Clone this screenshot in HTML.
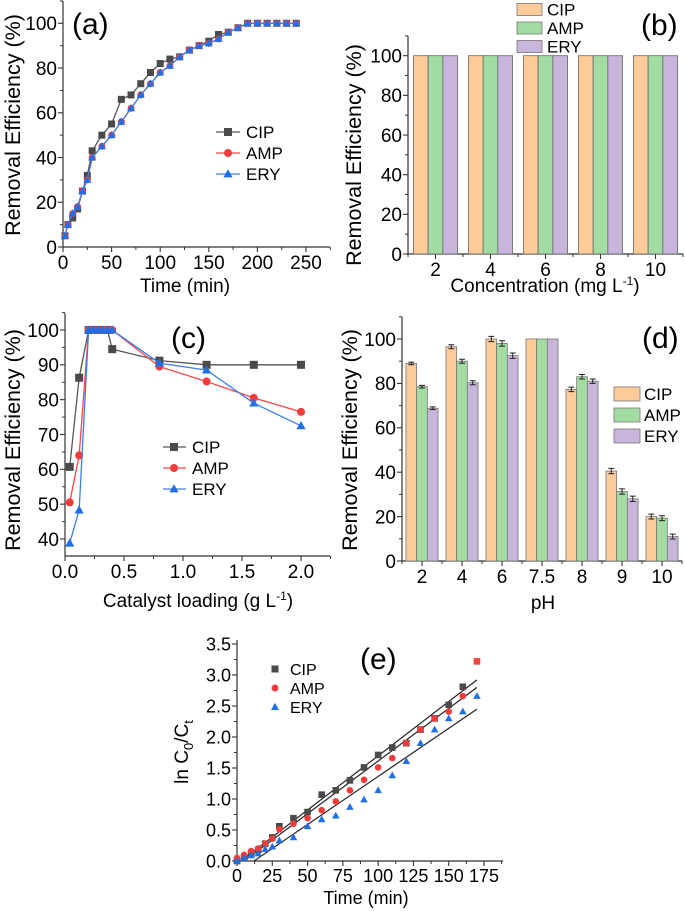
<!DOCTYPE html>
<html><head><meta charset="utf-8">
<style>
html,body{margin:0;padding:0;background:#fff;}
svg{display:block;font-family:"Liberation Sans",Arial,sans-serif;}
</style></head>
<body>
<svg id="fig" width="685" height="911" viewBox="0 0 685 911" xmlns="http://www.w3.org/2000/svg"></svg>
<script>
// ---------- Panel (a) data ----------
const aTime=[2,5,10,15,20,25,30,40,50,60,70,80,90,100,110,120,130,140,150,160,170,180,190,200,210,220,230,240];
const aCIP=[5,10,13,17,25,32,43,50,55,66,68,73,78,82,84,85,88,90,92,95,96,98,100,100,100,100,100,100];
const aAMP=[5,10,15,18,25,30,40,45,50,56,62,68,73,78,81,85,88,90,91,93,96,98,100,100,100,100,100,100];
const aERY=[5,10,15,18,25,30,40,45,50,56,62,68,73,78,81,85,88,90,91,93,96,98,100,100,100,100,100,100];
const aXTicks=[0,50,100,150,200,250];
const aYTicks=[0,20,40,60,80,100];
// ---------- Panel (b) data ----------
const bCats=["2","4","6","8","10"];
const bCIP=[100,100,100,100,100];
const bAMP=[100,100,100,100,100];
const bERY=[100,100,100,100,100];
const bYTicks=[0,20,40,60,80,100];
// ---------- Panel (c) data ----------
const cLoad=[0.04,0.12,0.2,0.24,0.28,0.32,0.36,0.4,0.8,1.2,1.6,2.0];
const cCIP=[60.7,86.3,100,100,100,100,100,94.5,91.2,90,90,90];
const cAMP=[50.5,64,100,100,100,100,100,100,89.5,85.2,80.5,76.5];
const cERY=[38.8,48.3,100,100,100,100,100,100,90.5,88.5,79,72.5];
const cXTicks=["0.0","0.5","1.0","1.5","2.0"];
const cYTicks=[40,50,60,70,80,90,100];
// ---------- Panel (d) data ----------
const dCats=["2","4","6","7.5","8","9","10"];
const dCIP=[89,96.5,100,100,77.3,40.5,20];
const dAMP=[78.5,90,98,100,83,31.3,19.3];
const dERY=[68.8,80.3,92.5,100,81,28,11];
const dErr=[0.6,0.9,1.2,0,1.0,1.2,1.1];
const dYTicks=[0,20,40,60,80,100];
// ---------- Panel (e) data ----------
const eTime=[0,5,10,15,20,25,30,40,50,60,70,80,90,100,110,120,130,140,150,160,170];
const eCIP=[0,0.05,0.12,0.18,0.28,0.38,0.56,0.69,0.79,1.07,1.14,1.30,1.51,1.71,1.83,1.90,2.12,2.30,2.52,2.81,3.22];
const eAMPt=[0,5,10,15,20,25,30,40,50,60,70,80,90,100,110,120,130,140,150,160];
const eAMP=[0.05,0.10,0.16,0.20,0.28,0.36,0.51,0.60,0.69,0.82,0.96,1.14,1.31,1.51,1.66,1.90,2.12,2.30,2.41,2.66];
const eERY=[0,0.05,0.09,0.12,0.19,0.23,0.33,0.38,0.56,0.67,0.73,0.87,0.99,1.14,1.38,1.61,1.90,2.12,2.30,2.41,2.66];
const eSlope=[0.01749,0.01697,0.0155];
const eIntercept=[-0.052,-0.085,-0.186];
const eXTicks=[0,25,50,75,100,125,150,175];
const eYTicks=["0.0","0.5","1.0","1.5","2.0","2.5","3.0","3.5"];

const NS="http://www.w3.org/2000/svg";
const svg=document.getElementById('fig');
function mk(tag,attrs,parent,txt){const e=document.createElementNS(NS,tag);for(const k in attrs)e.setAttribute(k,attrs[k]);if(txt!==undefined)e.textContent=txt;(parent||svg).appendChild(e);return e;}
function lin(d0,d1,r0,r1){return v=>r0+(v-d0)*(r1-r0)/(d1-d0);}
const COL={CIP:'#4a4a4a',AMP:'#f23c3c',ERY:'#1f6fe8'};
const LCOL={CIP:'#555555',AMP:'#f44',ERY:'#3a80ea'};
const BAR={CIP:'#ffcc99',AMP:'#a3dca3',ERY:'#c7b5dc'};

function marker(g,type,x,y,c,s){
  let e;
  if(type==='sq'){e=mk('rect',{x:x-s,y:y-s,width:2*s,height:2*s,fill:c},g);}
  else if(type==='ci'){e=mk('circle',{cx:x,cy:y,r:s,fill:c},g);}
  else {e=mk('polygon',{points:`${x},${y-s*1.2} ${x-s*1.15},${y+s*0.85} ${x+s*1.15},${y+s*0.85}`,fill:c},g);}
  
  
  return e;
}

function axes(g,o){
  const fs=o.fs||19;
  mk('line',{x1:o.x0,y1:o.y0,x2:o.x1,y2:o.y0,stroke:'#333','stroke-width':1.2,},g);
  mk('line',{x1:o.x0,y1:o.y0,x2:o.x0,y2:o.y1,stroke:'#333','stroke-width':1.2,},g);
  o.xticks.forEach(t=>{
    mk('line',{x1:t.p,y1:o.y0,x2:t.p,y2:o.y0+5,stroke:'#333','stroke-width':1.1},g);
    mk('text',{x:t.p,y:o.y0+fs+3,'font-size':fs,'text-anchor':'middle',},g,t.label);
  });
  (o.minorX||[]).forEach(p=>mk('line',{x1:p,y1:o.y0,x2:p,y2:o.y0+3,stroke:'#333','stroke-width':1},g));
  o.yticks.forEach(t=>{
    mk('line',{x1:o.x0,y1:t.p,x2:o.x0-5,y2:t.p,stroke:'#333','stroke-width':1.1},g);
    mk('text',{x:o.x0-6,y:t.p+fs*0.36,'font-size':fs,'text-anchor':'end',},g,t.label);
  });
  (o.minorY||[]).forEach(p=>mk('line',{x1:o.x0,y1:p,x2:o.x0-3,y2:p,stroke:'#333','stroke-width':1},g));
}
function ytitle(g,x,y,txt,fs,name){
  return mk('text',{x:0,y:0,transform:`translate(${x},${y}) rotate(-90)`,'font-size':fs||20,'text-anchor':'middle',},g,txt);
}
function panelLabel(g,x,y,t){mk('text',{x:x,y:y,'font-size':30,},g,t);}

// ================= Panel (a) =================
(function(){
  const g=mk('g',{});
  const X=lin(0,250,63,306), Y=lin(0,100,247,23.3);
  axes(g,{x0:63,x1:330,y0:247,y1:1,
    xticks:aXTicks.map(v=>({p:X(v),label:v})),
    yticks:aYTicks.map(v=>({p:Y(v),label:v})),
    minorX:[25,75,125,175,225,275].map(X),minorY:[10,30,50,70,90,110].map(Y)});
  const series=[['CIP',aCIP,'sq'],['AMP',aAMP,'ci'],['ERY',aERY,'tr']];
  series.forEach(([n,arr,m])=>{
    const sg=mk('g',{},g);
    mk('polyline',{points:aTime.map((t,i)=>X(t)+','+Y(arr[i])).join(' '),fill:'none',stroke:LCOL[n],'stroke-width':1.3},sg);
    aTime.forEach((t,i)=>marker(sg,m,X(t),Y(arr[i]),COL[n],3.5));
  });
  const lg=mk('g',{},g);
  series.forEach(([n,arr,m],i)=>{
    const y=132+i*21;
    mk('line',{x1:216,y1:y,x2:240,y2:y,stroke:LCOL[n],'stroke-width':1.3},lg);
    marker(lg,m,228,y,COL[n],4);
    mk('text',{x:246,y:y+6,'font-size':17,},lg,n);
  });
  panelLabel(g,72,34,'(a)');
  mk('text',{x:185,y:292,'font-size':19,'text-anchor':'middle',},g,'Time (min)');
  ytitle(g,20,125,'Removal Efficiency (%)',21.5);
})();

// ================= Panel (b) =================
(function(){
  const g=mk('g',{});
  const x0=408,x1=683,Y=lin(0,100,254,55.7);
  const band=(x1-x0)/bCats.length, bw=14.7;
  const cx=i=>x0+band*(i+0.5);
  axes(g,{x0:x0,x1:x1,y0:254,y1:36,
    xticks:bCats.map((c,i)=>({p:cx(i),label:c})),
    yticks:bYTicks.map(v=>({p:Y(v),label:v})),
    minorX:bCats.map((c,i)=>x0+band*i).concat([x1]),minorY:[10,30,50,70,90,110].map(Y)});
  const series=[['CIP',bCIP],['AMP',bAMP],['ERY',bERY]];
  series.forEach(([n,arr],k)=>{
    arr.forEach((v,i)=>{
      const r=mk('rect',{x:cx(i)+(k-1.5)*bw,y:Y(v),width:bw,height:Y(0)-Y(v),fill:BAR[n],stroke:'#666','stroke-width':0.8},g);
      
      
    });
  });
  const lg=mk('g',{},g);
  series.forEach(([n],i)=>{
    const y=9.5+i*18.5;
    mk('rect',{x:517,y:y-6,width:25,height:12,fill:BAR[n],stroke:'#777','stroke-width':0.8},lg);
    mk('text',{x:547,y:y+6,'font-size':17,},lg,n);
  });
  panelLabel(g,641,35,'(b)');
  const t=mk('text',{x:545,y:292,'font-size':19,'text-anchor':'middle',},g);
  t.innerHTML='Concentration (mg L<tspan dy="-7" font-size="12">-1</tspan><tspan dy="7">)</tspan>';
  ytitle(g,361,155,'Removal Efficiency (%)',21.5);
})();

// ================= Panel (c) =================
(function(){
  const g=mk('g',{});
  const X=lin(0,2,65,301), Y=lin(40,100,539,330);
  axes(g,{x0:65,x1:330,y0:556,y1:313,
    xticks:cXTicks.map(v=>({p:X(parseFloat(v)),label:v})),
    yticks:cYTicks.map(v=>({p:Y(v),label:v})),
    minorX:[0.25,0.75,1.25,1.75,2.25].map(X),minorY:[45,55,65,75,85,95,105].map(Y)});
  const series=[['CIP',cCIP,'sq'],['AMP',cAMP,'ci'],['ERY',cERY,'tr']];
  series.forEach(([n,arr,m])=>{
    const sg=mk('g',{},g);
    mk('polyline',{points:cLoad.map((t,i)=>X(t)+','+Y(arr[i])).join(' '),fill:'none',stroke:LCOL[n],'stroke-width':1.3},sg);
    cLoad.forEach((t,i)=>marker(sg,m,X(t),Y(arr[i]),COL[n],4));
  });
  const lg=mk('g',{},g);
  series.forEach(([n,arr,m],i)=>{
    const y=447+i*21;
    mk('line',{x1:163,y1:y,x2:186,y2:y,stroke:LCOL[n],'stroke-width':1.3},lg);
    marker(lg,m,174,y,COL[n],4);
    mk('text',{x:192,y:y+6,'font-size':17,},lg,n);
  });
  panelLabel(g,171,348,'(c)');
  const t=mk('text',{x:198,y:607,'font-size':19,'text-anchor':'middle',},g);
  t.innerHTML='Catalyst loading (g L<tspan dy="-7" font-size="12">-1</tspan><tspan dy="7">)</tspan>';
  ytitle(g,20,440,'Removal Efficiency (%)',21.5);
})();

// ================= Panel (d) =================
(function(){
  const g=mk('g',{});
  const x0=402,x1=682,Y=lin(0,100,561,339);
  const band=(x1-x0)/dCats.length, bw=10.7;
  const cx=i=>x0+band*(i+0.5);
  axes(g,{x0:x0,x1:x1,y0:561,y1:317,
    xticks:dCats.map((c,i)=>({p:cx(i),label:c})),
    yticks:dYTicks.map(v=>({p:Y(v),label:v})),
    minorX:dCats.map((c,i)=>x0+band*i).concat([x1]),minorY:[10,30,50,70,90,110].map(Y)});
  const series=[['CIP',dCIP],['AMP',dAMP],['ERY',dERY]];
  series.forEach(([n,arr],k)=>{
    arr.forEach((v,i)=>{
      const bx=cx(i)+(k-1.5)*bw;
      const r=mk('rect',{x:bx,y:Y(v),width:bw,height:Y(0)-Y(v),fill:BAR[n],stroke:'#777','stroke-width':0.8},g);
      
      
      const e=dErr[i];
      if(e>0){
        const m=bx+bw/2;
        mk('path',{d:`M${m},${Y(v+e)}V${Y(v-e)}M${m-3},${Y(v+e)}H${m+3}M${m-3},${Y(v-e)}H${m+3}`,stroke:'#222','stroke-width':1,fill:'none',},g);
      }
    });
  });
  const lg=mk('g',{},g);
  series.forEach(([n],i)=>{
    const y=394+i*21;
    mk('rect',{x:614,y:y-7,width:26,height:14,fill:BAR[n],stroke:'#777','stroke-width':0.8},lg);
    mk('text',{x:644,y:y+6,'font-size':17,},lg,n);
  });
  panelLabel(g,642,348,'(d)');
  mk('text',{x:543,y:609,'font-size':19,'text-anchor':'middle',},g,'pH');
  ytitle(g,357,440,'Removal Efficiency (%)',21.5);
})();

// ================= Panel (e) =================
(function(){
  const g=mk('g',{});
  const X=lin(0,175,237,484), Y=lin(0,3.5,861,644);
  axes(g,{x0:237,x1:503,y0:861,y1:640,fs:18,
    xticks:eXTicks.map(v=>({p:X(v),label:v})),
    yticks:eYTicks.map(v=>({p:Y(parseFloat(v)),label:v})),
    minorX:[12.5,37.5,62.5,87.5,112.5,137.5,162.5,187.5].map(X),minorY:[0.25,0.75,1.25,1.75,2.25,2.75,3.25].map(Y)});
  eSlope.forEach((s,i)=>{
    const b=eIntercept[i]; const xs=-b/s;
    const l=mk('line',{x1:X(xs),y1:Y(0),x2:X(170),y2:Y(s*170+b),stroke:'#222','stroke-width':1.2},g);
    
    
  });
  const sets=[['CIP',eTime,eCIP,'sq'],['AMP',eAMPt,eAMP,'ci'],['ERY',eTime,eERY,'tr']];
  sets.forEach(([n,tx,arr,m])=>{
    const sg=mk('g',{},g);
    tx.forEach((t,i)=>marker(sg,m,X(t),Y(arr[i]),n==='CIP'&&i===tx.length-1?'#ee4444':COL[n],3.3));
  });
  const lg=mk('g',{},g);
  sets.forEach(([n,tx,arr,m],i)=>{
    const y=669+i*19;
    marker(lg,m,275,y,COL[n],3.5);
    mk('text',{x:290,y:y+6,'font-size':16,},lg,n);
  });
  panelLabel(g,360,669,'(e)');
  mk('text',{x:366,y:904,'font-size':18,'text-anchor':'middle',},g,'Time (min)');
  const t=mk('text',{x:0,y:0,transform:'translate(188,752) rotate(-90)','font-size':19,'text-anchor':'middle',},g);
  t.innerHTML='ln C<tspan dy="5" font-size="13">0</tspan><tspan dy="-5">/C</tspan><tspan dy="5" font-size="13">t</tspan>';
})();
</script>
</body></html>
